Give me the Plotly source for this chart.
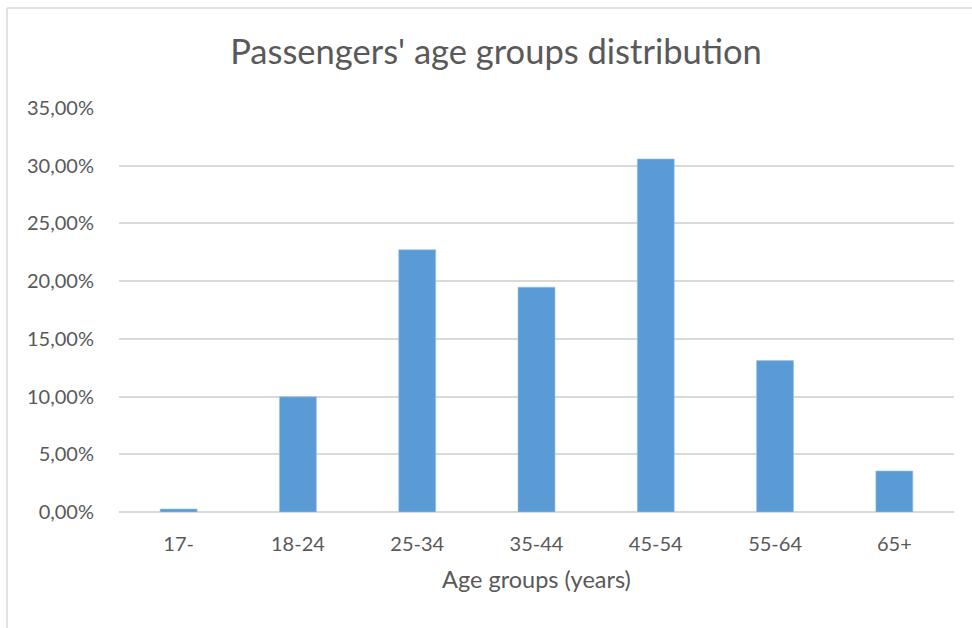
import plotly.graph_objects as go

# Share of passengers in each age band
age_groups = ["17-", "18-24", "25-34", "35-44", "45-54", "55-64", "65+"]
shares = [0.0026, 0.0998, 0.2272, 0.1948, 0.3058, 0.1312, 0.0355]
y_ticks = [0.0, 0.05, 0.10, 0.15, 0.20, 0.25, 0.30, 0.35]

BAR = "#5B9BD5"
GRID = "#D9D9D9"
TEXT = "#595959"
FONT = "Lato, sans-serif"

W, H = 972, 628
L, R, T, B = 119, 18, 108, 116
pw, ph = W - L - R, H - T - B

fig = go.Figure(
    go.Bar(
        x=age_groups,
        y=shares,
        marker=dict(color=BAR, line=dict(color="#9DC3E6", width=0.6)),
        hoverinfo="x+y",
    )
)

fig.update_layout(
    width=W,
    height=H,
    margin=dict(l=L, r=R, t=T, b=B),
    paper_bgcolor="white",
    plot_bgcolor="white",
    separators=", ",
    bargap=0.69,
    showlegend=False,
    font=dict(family=FONT, color=TEXT),
    title=dict(
        text="Passengers' age groups distribution",
        x=496 / W,
        xanchor="center",
        y=1 - 52 / H,
        yanchor="middle",
        font=dict(family=FONT, size=34.5, color=TEXT),
    ),
    xaxis=dict(
        showgrid=False,
        showline=False,
        zeroline=False,
        tickfont=dict(family=FONT, size=20, color=TEXT),
        ticks="",
        ticklabelstandoff=18,
        title=dict(
            text="Age groups (years)",
            font=dict(family=FONT, size=23.5, color=TEXT),
            standoff=17,
        ),
    ),
    yaxis=dict(
        range=[0, 0.35],
        tickvals=y_ticks,
        tickformat=".2%",
        showgrid=True,
        gridcolor=GRID,
        gridwidth=1.6,
        zeroline=True,
        zerolinecolor=GRID,
        zerolinewidth=1.6,
        showline=False,
        ticks="",
        ticklabelstandoff=24,
        tickfont=dict(family=FONT, size=20, color=TEXT),
    ),
)

# Light frame around the chart area (left and top edges)
x_left = (7 - L) / pw
y_top = (H - B - 8) / ph
fig.add_shape(type="line", xref="paper", yref="paper",
              x0=x_left, x1=x_left, y0=-B / ph - 0.01, y1=y_top,
              line=dict(color=GRID, width=1.5))
fig.add_shape(type="line", xref="paper", yref="paper",
              x0=x_left, x1=1 + R / pw + 0.01, y0=y_top, y1=y_top,
              line=dict(color=GRID, width=1.5))

fig.write_html("out.html")
